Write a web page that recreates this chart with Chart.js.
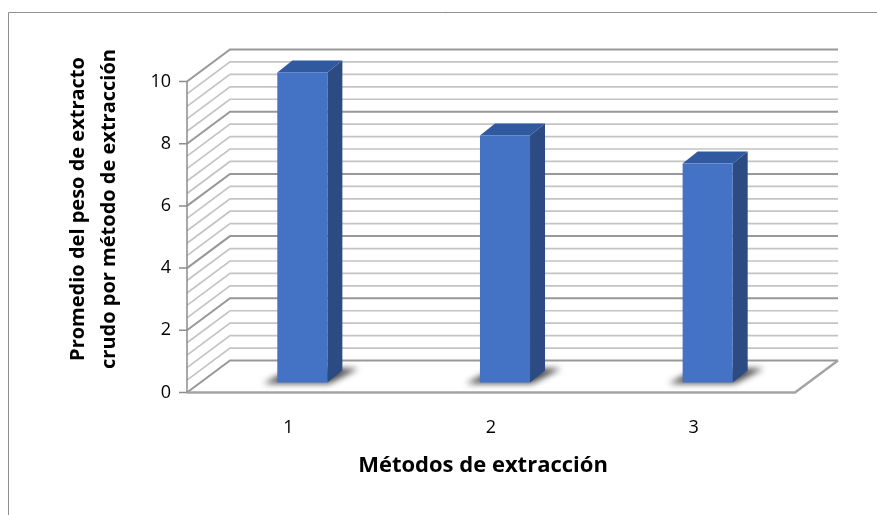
<!DOCTYPE html>
<html>
<head>
<meta charset="utf-8">
<script src="https://cdn.jsdelivr.net/npm/chart.js@4.4.1/dist/chart.umd.min.js"></script>
<style>
  html, body { margin: 0; padding: 0; background: #ffffff; }
  #wrap { width: 877px; height: 515px; position: relative; }
</style>
</head>
<body>
<div id="wrap"><canvas id="chart" width="877" height="515"></canvas></div>
<script>
// Average crude extract weight per extraction method
const categories = ['1', '2', '3'];
const promedioPeso = [9.97, 7.94, 7.04];
const yTicks = [0, 2, 4, 6, 8, 10];
const yTitleLines = ['Promedio del peso de extracto', 'crudo por método de extracción'];
const xTitleText = 'Métodos de extracción';

const FONT = '"Open Sans", "Liberation Sans", sans-serif';

// 3D look: wall depth, bar offset inside the depth, and bar thickness
const DEPTH = { dx: 43, dy: -32 };
const BAR_SHIFT = { dx: 14, dy: -10 };
const BAR_DEPTH = { dx: 15, dy: -12 };
const MINOR_STEP = 0.4;

const COLORS = {
  front: '#4472c4',
  side: '#2c4b82',
  top: '#31599f',
  minorGrid: '#c4c4c4',
  majorGrid: '#989898',
  floor: '#a4a4a4',
  axis: '#8c8c8c',
  frame: '#8f8f8f'
};

const walls3d = {
  id: 'walls3d',
  beforeDraw(chart) {
    const ctx = chart.ctx;
    ctx.save();
    ctx.fillStyle = '#ffffff';
    ctx.fillRect(0, 0, chart.width, chart.height);
    ctx.strokeStyle = COLORS.frame;
    ctx.lineWidth = 1;
    ctx.beginPath();
    ctx.moveTo(8.5, chart.height);
    ctx.lineTo(8.5, 12.5);
    ctx.lineTo(chart.width, 12.5);
    ctx.stroke();
    ctx.restore();
  },
  beforeDatasetsDraw(chart) {
    const { ctx, chartArea: a, scales: { y } } = chart;
    ctx.save();
    ctx.lineCap = 'butt';
    const steps = Math.round((y.max - y.min) / MINOR_STEP);
    for (let i = 0; i <= steps; i++) {
      const v = y.min + i * MINOR_STEP;
      const py = y.getPixelForValue(v);
      const major = Math.abs(v / 2 - Math.round(v / 2)) < 1e-6;
      ctx.strokeStyle = major ? COLORS.majorGrid : COLORS.minorGrid;
      ctx.lineWidth = major ? 2 : 1.7;
      ctx.beginPath();
      ctx.moveTo(a.left, py);
      ctx.lineTo(a.left + DEPTH.dx, py + DEPTH.dy);
      ctx.lineTo(a.right + DEPTH.dx, py + DEPTH.dy);
      ctx.stroke();
    }
    // floor outline (front and right edges)
    const y0 = y.getPixelForValue(y.min);
    ctx.strokeStyle = COLORS.floor;
    ctx.lineWidth = 2.5;
    ctx.beginPath();
    ctx.moveTo(a.left, y0);
    ctx.lineTo(a.right, y0);
    ctx.lineTo(a.right + DEPTH.dx, y0 + DEPTH.dy);
    ctx.stroke();
    // front value axis with tick marks
    const yTop = y.getPixelForValue(y.max);
    ctx.strokeStyle = COLORS.axis;
    ctx.lineWidth = 1.5;
    ctx.beginPath();
    ctx.moveTo(a.left, y0);
    ctx.lineTo(a.left, yTop);
    yTicks.forEach(t => {
      const py = y.getPixelForValue(t);
      ctx.moveTo(a.left - 8, py);
      ctx.lineTo(a.left, py);
    });
    ctx.stroke();
    ctx.restore();
  },
  beforeDatasetDraw(chart, args) {
    const ctx = chart.ctx;
    const meta = args.meta;
    meta.data.forEach(bar => {
      const p = bar.getProps(['x', 'y', 'base', 'width'], true);
      const x0 = p.x - p.width / 2 + BAR_SHIFT.dx;
      const x1 = p.x + p.width / 2 + BAR_SHIFT.dx;
      const yt = p.y + BAR_SHIFT.dy;
      const yb = p.base + BAR_SHIFT.dy;
      const bx = BAR_DEPTH.dx, by = BAR_DEPTH.dy;

      // soft shadow on the floor
      ctx.save();
      ctx.filter = 'blur(3px)';
      ctx.fillStyle = 'rgba(30,30,30,0.8)';
      ctx.beginPath();
      ctx.moveTo(x0 - 14, yb + 1);
      ctx.lineTo(x1 + 2, yb + 1);
      ctx.lineTo(x1 + bx + 16, yb + by - 2);
      ctx.lineTo(x0 + bx, yb + by - 2);
      ctx.closePath();
      ctx.fill();
      ctx.restore();

      ctx.save();
      // side face
      ctx.fillStyle = COLORS.side;
      ctx.beginPath();
      ctx.moveTo(x1, yt);
      ctx.lineTo(x1 + bx, yt + by);
      ctx.lineTo(x1 + bx, yb + by);
      ctx.lineTo(x1, yb);
      ctx.closePath();
      ctx.fill();
      // top face
      ctx.fillStyle = COLORS.top;
      ctx.beginPath();
      ctx.moveTo(x0, yt);
      ctx.lineTo(x0 + bx, yt + by);
      ctx.lineTo(x1 + bx, yt + by);
      ctx.lineTo(x1, yt);
      ctx.closePath();
      ctx.fill();
      // front face
      ctx.fillStyle = COLORS.front;
      ctx.fillRect(x0, yt, x1 - x0, yb - yt);
      ctx.restore();
    });
    return false;
  },
  afterDraw(chart) {
    const { ctx, chartArea: a } = chart;
    ctx.save();
    ctx.fillStyle = '#000000';
    ctx.textAlign = 'center';
    ctx.textBaseline = 'middle';
    // category axis title
    ctx.font = 'bold 22px ' + FONT;
    ctx.fillText(xTitleText, (a.left + a.right) / 2 - 8, 466);
    // value axis title, two rotated lines
    ctx.font = 'bold 20px ' + FONT;
    ctx.translate(78, 209);
    ctx.rotate(-Math.PI / 2);
    yTitleLines.forEach((line, i) => ctx.fillText(line, 0, i * 31));
    ctx.restore();
  }
};

new Chart(document.getElementById('chart'), {
  type: 'bar',
  data: {
    labels: categories,
    datasets: [{
      label: 'Promedio',
      data: promedioPeso,
      backgroundColor: COLORS.front,
      barPercentage: 0.5,
      categoryPercentage: 0.494
    }]
  },
  options: {
    responsive: false,
    animation: false,
    devicePixelRatio: 1,
    layout: { padding: { left: 0, right: 82, top: 81.5, bottom: 0 } },
    plugins: { legend: { display: false }, tooltip: { enabled: false } },
    scales: {
      x: {
        grid: { display: false, drawTicks: false },
        border: { display: false },
        ticks: { color: '#000', font: { family: FONT, size: 18 }, padding: 25 },
        afterFit(scale) { scale.height = 122.5; }
      },
      y: {
        min: yTicks[0],
        max: yTicks[yTicks.length - 1],
        grid: { display: false, drawTicks: false },
        border: { display: false },
        ticks: { stepSize: yTicks[1] - yTicks[0], color: '#000', font: { family: FONT, size: 18 }, padding: 16 },
        afterFit(scale) { scale.width = 187; }
      }
    }
  },
  plugins: [walls3d]
});
</script>
</body>
</html>
